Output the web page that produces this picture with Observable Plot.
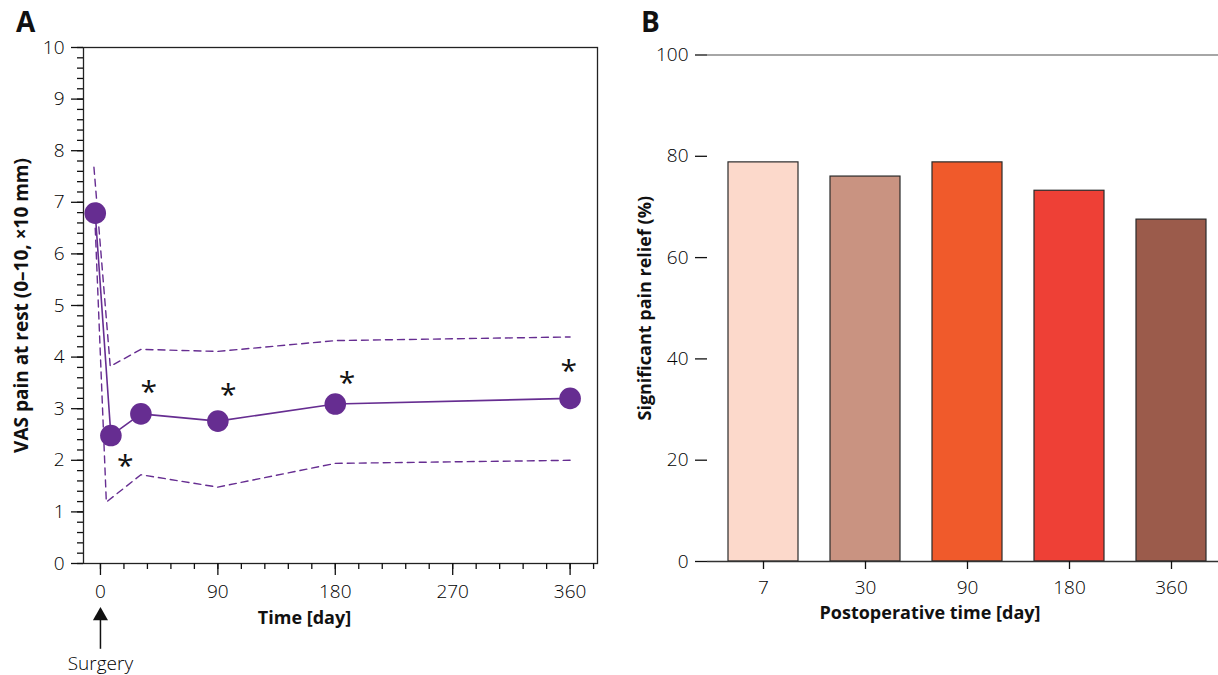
<!DOCTYPE html>
<html><head><meta charset="utf-8">
<script src="https://cdn.jsdelivr.net/npm/d3@7"></script>
<script src="https://cdn.jsdelivr.net/npm/@observablehq/plot@0.6"></script>
<style>
html,body{margin:0;padding:0;background:#fff;overflow:hidden;width:1218px;height:675px;}
#wrap{position:relative;width:1218px;height:675px;overflow:hidden;}
.panel{position:absolute;top:0;}
.panel svg{max-width:none !important;}
.lab{position:absolute;font-family:"Open Sans","DejaVu Sans",sans-serif;font-weight:bold;font-size:28px;color:#111;line-height:1;}
</style></head>
<body>
<div id="wrap">
  <div id="pa" class="panel" style="left:0px"></div>
  <div id="pb" class="panel" style="left:610px"></div>
  <div class="lab" style="left:16px;top:7px">A</div>
  <div class="lab" style="left:641px;top:7px">B</div>
</div>
<script>
// ---------- Panel A data ----------
const vasDays  = [-4, 8, 31, 90, 180, 360];
const vasMean  = [6.79, 2.48, 2.90, 2.76, 3.09, 3.20];
const upperDays = [-5, 7.5, 31, 90, 180, 360];
const upperVals = [7.68, 3.82, 4.15, 4.11, 4.32, 4.39];
const lowerDays = [-4, 4.5, 31, 90, 180, 360];
const lowerVals = [6.5, 1.19, 1.72, 1.48, 1.94, 2.00];
const starDays = [19, 37, 98, 189, 359];
const starVals = [2.04, 3.48, 3.42, 3.64, 3.87];
const vasTicks = [0, 1, 2, 3, 4, 5, 6, 7, 8, 9, 10];
const dayTicks = [0, 90, 180, 270, 360];
const vasMinorStep = 0.2;
const dayMinorStep = 18;
const vasLabel = "VAS pain at rest (0–10, ×10 mm)";
const timeLabel = "Time [day]";
const surgeryLabel = "Surgery";

// ---------- Panel B data ----------
const periods = ["7", "30", "90", "180", "360"];
const relief = [78.8, 76.0, 78.8, 73.2, 67.5];
const barColors = ["#fcd9cb", "#c99381", "#f05a2b", "#ee4036", "#9b5b4b"];
const reliefTicks = [0, 20, 40, 60, 80, 100];
const reliefLabel = "Significant pain relief (%)";
const postopLabel = "Postoperative time [day]";

const purple = "#662d91";
const font = "'Open Sans', 'DejaVu Sans', sans-serif";
const tickFont = 19;
const tickWeight = 300;
const labelFont = 18;

const meanRows = vasDays.map((d, i) => ({day: d, v: vasMean[i]}));
const upperRows = upperDays.map((d, i) => ({day: d, v: upperVals[i]}));
const lowerRows = lowerDays.map((d, i) => ({day: d, v: lowerVals[i]}));
const starRows = starDays.map((d, i) => ({day: d, v: starVals[i]}));
const minorY = d3.range(0, 10 + 1e-9, vasMinorStep);
const minorX = d3.range(0, 380, dayMinorStep);

const chartA = Plot.plot({
  width: 610, height: 675,
  marginLeft: 83, marginRight: 13, marginTop: 47, marginBottom: 112,
  style: {fontFamily: font, fontSize: "18px", color: "#111", background: "transparent", overflow: "visible", maxWidth: "none"},
  x: {domain: [-13, 381]},
  y: {domain: [0, 10]},
  marks: [
    Plot.frame({stroke: "#222", strokeWidth: 1.3}),
    Plot.axisY({ticks: minorY, tickSize: 6, tickFormat: () => "", label: null, strokeWidth: 1.3}),
    Plot.axisY({ticks: vasTicks, tickSize: 12, tickPadding: 7, label: null, fontSize: tickFont, fontWeight: tickWeight, fill: "#000", strokeWidth: 1.3}),
    Plot.axisX({ticks: minorX, tickSize: 6, tickFormat: () => "", label: null, strokeWidth: 1.3}),
    Plot.axisX({ticks: dayTicks, tickSize: 12, tickPadding: 9, label: null, fontSize: tickFont, fontWeight: tickWeight, fill: "#000", strokeWidth: 1.3}),
    Plot.line(upperRows, {x: "day", y: "v", stroke: purple, strokeWidth: 1.4, strokeDasharray: "7,5"}),
    Plot.line(lowerRows, {x: "day", y: "v", stroke: purple, strokeWidth: 1.4, strokeDasharray: "7,5"}),
    Plot.line(meanRows, {x: "day", y: "v", stroke: purple, strokeWidth: 1.6}),
    Plot.dot(meanRows, {x: "day", y: "v", r: 10.8, fill: purple, stroke: "none"}),
    Plot.text(starRows, {x: "day", y: "v", text: () => "*", fontSize: 30, fill: "#111", dy: 8}),
    Plot.link([0], {x1: 0, x2: 0, y1: -1.653, y2: -1.05, stroke: "#111", strokeWidth: 1.5}),
    Plot.dot([0], {x: 0, y: -1.014, symbol: "triangle", r: 5.6, fill: "#111", stroke: "none"}),
    Plot.text([surgeryLabel], {x: 0, y: -1.94, text: d => d, fontSize: 19, fontWeight: tickWeight, fill: "#000"}),
    Plot.text([timeLabel], {frameAnchor: "bottom", lineAnchor: "middle", textAnchor: "middle", dx: -36, dy: 55, text: d => d, fontSize: labelFont, fontWeight: "bold", fill: "#111"}),
    Plot.text([vasLabel], {frameAnchor: "left", lineAnchor: "middle", textAnchor: "middle", dx: -62, rotate: -90, text: d => d, fontSize: 19, fontWeight: "bold", fill: "#111"})
  ]
});
chartA.style.maxWidth = "none";
document.getElementById("pa").appendChild(chartA);

const barRows = periods.map((p, i) => ({period: p, value: relief[i]}));

const chartB = Plot.plot({
  width: 616, height: 675,
  marginLeft: 97, marginRight: 0, marginTop: 54.5, marginBottom: 114,
  style: {fontFamily: font, fontSize: "18px", color: "#111", background: "transparent", overflow: "visible", maxWidth: "none"},
  x: {type: "band", domain: periods, paddingInner: 0.314, paddingOuter: 0.2},
  y: {domain: [0, 100]},
  color: {domain: periods, range: barColors},
  marks: [
    Plot.barY(barRows, {x: "period", y: "value", fill: "period", stroke: "#2a2a2a", strokeWidth: 1.2}),
    Plot.ruleY([100], {stroke: "#888", strokeWidth: 1.3}),
    Plot.ruleY([0], {stroke: "#333", strokeWidth: 1.3}),
    Plot.axisY({ticks: reliefTicks, tickSize: 12, tickPadding: 7, label: null, line: true, fontSize: tickFont, fontWeight: tickWeight, fill: "#000", strokeWidth: 1.3}),
    Plot.axisX({tickSize: 8, tickPadding: 11, label: null, fontSize: tickFont, fontWeight: tickWeight, fill: "#000", strokeWidth: 1.3}),
    Plot.text([postopLabel], {frameAnchor: "bottom", lineAnchor: "middle", textAnchor: "middle", dx: -37, dy: 52, text: d => d, fontSize: labelFont, fontWeight: "bold", fill: "#111"}),
    Plot.text([reliefLabel], {frameAnchor: "left", lineAnchor: "middle", textAnchor: "middle", dx: -62, rotate: -90, text: d => d, fontSize: labelFont, fontWeight: "bold", fill: "#111"})
  ]
});
chartB.style.maxWidth = "none";
document.getElementById("pb").appendChild(chartB);
</script>
</body></html>
